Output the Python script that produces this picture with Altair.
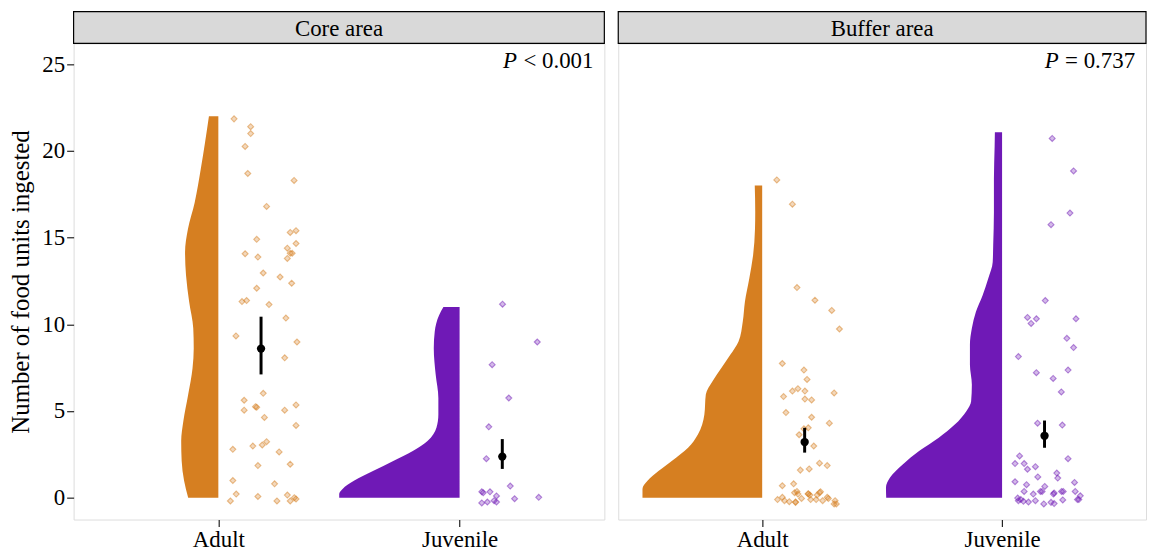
import altair as alt
import pandas as pd

FONT = "Liberation Serif"

CATEGORIES = ["Adult", "Juvenile"]
CAT_POS = [1, 2]
AREAS = ["Core area", "Buffer area"]
P_SIGN = ["< 0.001", "= 0.737"]
COLORS = ["#D67F21", "#6F19B6"]
Y_TICKS = [0, 5, 10, 15, 20, 25]

# ---- half-violin outlines (value, half width in category units)
CORE_ADULT_VY = [0, 0.97, 2.12, 3.27, 4.42, 5.95, 7.47, 8.62, 9.77, 11.3, 12.83, 14.16, 15.5, 17.03, 18.94, 20.5, 22.0]
CORE_ADULT_VW = [0.125, 0.142, 0.152, 0.154, 0.145, 0.125, 0.107, 0.102, 0.104, 0.121, 0.134, 0.138, 0.126, 0.098, 0.073, 0.055, 0.039]
CORE_JUV_VY = [0, 0.21, 0.5, 0.97, 1.55, 2.12, 2.69, 3.27, 4.03, 4.8, 5.75, 7.09, 8.62, 9.58, 10.53, 11.0]
CORE_JUV_VW = [0.499, 0.499, 0.485, 0.438, 0.357, 0.275, 0.194, 0.133, 0.096, 0.088, 0.088, 0.099, 0.107, 0.103, 0.085, 0.067]
BUF_ADULT_VY = [0, 0.5, 0.97, 1.55, 2.12, 2.88, 3.65, 4.8, 5.95, 6.71, 7.47, 8.24, 9.0, 10.15, 11.3, 12.63, 13.97, 15.5, 16.5, 18.0]
BUF_ADULT_VW = [0.499, 0.499, 0.478, 0.431, 0.377, 0.309, 0.268, 0.241, 0.235, 0.207, 0.171, 0.133, 0.099, 0.081, 0.072, 0.054, 0.038, 0.030, 0.029, 0.031]
BUF_JUV_VY = [0, 0.59, 1.16, 1.93, 2.69, 3.46, 4.23, 4.99, 5.56, 6.52, 7.67, 8.81, 9.77, 10.72, 11.68, 12.63, 13.59, 14.55, 16.46, 18.37, 20.28, 21.08]
BUF_JUV_VW = [0.483, 0.484, 0.467, 0.413, 0.346, 0.264, 0.196, 0.149, 0.129, 0.126, 0.134, 0.134, 0.126, 0.109, 0.081, 0.058, 0.039, 0.037, 0.034, 0.034, 0.031, 0.030]

# ---- raw observations: horizontal jitter (category units) and value
CORE_ADULT_DX = [0.065, 0.134, 0.134, 0.111, 0.122, 0.314, 0.200, 0.298, 0.322, 0.159, 0.322, 0.111, 0.164,
                 0.286, 0.298, 0.306, 0.286, 0.186, 0.256, 0.304, 0.159, 0.098, 0.117, 0.210, 0.280, 0.073,
                 0.326, 0.275, 0.186, 0.107, 0.107, 0.159, 0.154, 0.191, 0.275, 0.322, 0.322, 0.060, 0.143,
                 0.182, 0.200, 0.252, 0.164, 0.298, 0.060, 0.233, 0.074, 0.164, 0.050, 0.243, 0.286, 0.298,
                 0.322, 0.315]
CORE_ADULT_Y = [21.85, 21.4, 21.0, 20.26, 18.7, 18.3, 16.8, 15.3, 15.4, 14.9, 14.66, 14.07, 13.88,
                14.39, 14.1, 14.1, 13.8, 12.96, 12.73, 12.37, 12.08, 11.31, 11.37, 11.14, 10.36, 9.33,
                8.98, 8.07, 6.02, 5.62, 5.05, 5.22, 5.25, 4.63, 5.05, 5.35, 4.17, 2.79, 2.98,
                3.04, 3.23, 2.64, 1.85, 1.93, 0.99, 0.8, 0.21, 0.07, -0.19, -0.19, 0.15, -0.19,
                -0.07, 0.0]
CORE_JUV_DX = [0.178, 0.322, 0.135, 0.204, 0.121, 0.111, 0.210, 0.092, 0.098, 0.126, 0.153, 0.143,
               0.153, 0.115, 0.092, 0.228, 0.328]
CORE_JUV_Y = [11.16, 8.98, 7.67, 5.75, 4.09, 2.25, 0.67, 0.34, 0.29, 0.34, 0.10, -0.17,
              -0.25, -0.25, -0.30, -0.06, 0.02]
BUF_ADULT_DX = [0.061, 0.126, 0.145, 0.220, 0.290, 0.322, 0.084, 0.174, 0.187, 0.126, 0.149, 0.178,
                0.089, 0.178, 0.206, 0.300, 0.099, 0.206, 0.280, 0.192, 0.174, 0.154, 0.215, 0.239,
                0.271, 0.159, 0.196, 0.084, 0.131, 0.064, 0.084, 0.093, 0.113, 0.135, 0.145, 0.149,
                0.164, 0.139, 0.139, 0.192, 0.192, 0.199, 0.202, 0.225, 0.229, 0.239, 0.243, 0.252,
                0.271, 0.276, 0.304, 0.309, 0.300]
BUF_ADULT_Y = [18.33, 16.93, 12.12, 11.39, 10.8, 9.73, 7.74, 7.36, 6.82, 6.15, 6.29, 6.15,
               5.83, 5.69, 5.64, 6.04, 4.91, 4.64, 4.30, 4.03, 3.97, 3.63, 2.98, 1.99,
               1.85, 1.59, 1.66, 0.69, 0.80, -0.11, 0.02, -0.17, -0.23, 0.29, 0.36, 0.21,
               -0.04, -0.27, -0.25, 0.21, 0.23, 0.15, -0.11, -0.11, 0.15, 0.29, 0.34, -0.17,
               0.02, -0.04, -0.17, -0.36, -0.36]
BUF_JUV_DX = [0.209, 0.298, 0.283, 0.204, 0.180, 0.106, 0.121, 0.143, 0.308, 0.270, 0.298, 0.068,
              0.143, 0.275, 0.213, 0.247, 0.148, 0.251, 0.073, 0.275, 0.054, 0.092, 0.106, 0.139,
              0.228, 0.232, 0.149, 0.054, 0.102, 0.178, 0.302, 0.092, 0.130, 0.160, 0.167, 0.217,
              0.248, 0.255, 0.305, 0.326, 0.314, 0.320, 0.065, 0.078, 0.068, 0.089, 0.110, 0.139,
              0.174, 0.204, 0.217, 0.253, 0.214]
BUF_JUV_Y = [20.72, 18.85, 16.42, 15.75, 11.37, 10.40, 10.05, 10.32, 10.32, 9.19, 8.66, 8.14,
             7.21, 7.36, 6.88, 6.10, 4.30, 4.19, 2.41, 2.25, 1.97, 1.97, 1.64, 1.79,
             1.42, 1.13, 1.20, 0.92, 0.75, 0.65, 0.88, 0.36, 0.21, 0.36, 0.36, 0.27,
             0.36, 0.36, 0.36, 0.11, -0.11, -0.11, -0.02, -0.11, -0.17, -0.21, -0.25, -0.17,
             -0.36, -0.27, -0.34, -0.13, 0.21]

# ---- group means with 95% CI: [core adult, core juv, buffer adult, buffer juv]
MEAN = [8.6, 2.37, 3.21, 3.57]
CI_LO = [7.11, 1.66, 2.60, 2.88]
CI_HI = [10.44, 3.38, 4.03, 4.45]
SUMMARY_DX = 0.177

VIOLINS = {
    ("Core area", "Adult"): (CORE_ADULT_VY, CORE_ADULT_VW),
    ("Core area", "Juvenile"): (CORE_JUV_VY, CORE_JUV_VW),
    ("Buffer area", "Adult"): (BUF_ADULT_VY, BUF_ADULT_VW),
    ("Buffer area", "Juvenile"): (BUF_JUV_VY, BUF_JUV_VW),
}
POINTS = {
    ("Core area", "Adult"): (CORE_ADULT_DX, CORE_ADULT_Y),
    ("Core area", "Juvenile"): (CORE_JUV_DX, CORE_JUV_Y),
    ("Buffer area", "Adult"): (BUF_ADULT_DX, BUF_ADULT_Y),
    ("Buffer area", "Juvenile"): (BUF_JUV_DX, BUF_JUV_Y),
}

pos_of = dict(zip(CATEGORIES, CAT_POS))

vrows, prows, srows = [], [], []
for (area, cat), (vy, vw) in VIOLINS.items():
    for y, w in zip(vy, vw):
        vrows.append({"area": area, "cat": cat, "pos": pos_of[cat], "y": y, "w": w})
for (area, cat), (dx, py) in POINTS.items():
    for d, y in zip(dx, py):
        prows.append({"area": area, "cat": cat, "pos": pos_of[cat], "dx": d, "y": y})
i = 0
for area in AREAS:
    for cat in CATEGORIES:
        srows.append({"area": area, "cat": cat, "pos": pos_of[cat], "mean": MEAN[i],
                      "lo": CI_LO[i], "hi": CI_HI[i]})
        i += 1

vdf = pd.DataFrame(vrows)
pdf = pd.DataFrame(prows)
sdf = pd.DataFrame(srows)

XDOM = [0.4, 2.6]
YDOM = [-1.26, 26.2]
H = 479
STRIP = 32
FS = 23
color_scale = alt.Scale(domain=CATEGORIES, range=COLORS)
label_expr = " : ".join(
    [f"datum.value == {p} ? '{c}'" for p, c in zip(CAT_POS, CATEGORIES)]) + " : ''"


def panel(k, width, show_y):
    area = AREAS[k]
    xaxis = alt.Axis(values=CAT_POS, labelExpr=label_expr, title=None, grid=False,
                     domain=False, tickSize=7, tickColor="#222", tickWidth=1.2,
                     labelFont=FONT, labelFontSize=FS, labelColor="black", labelPadding=2)
    if show_y:
        yaxis = alt.Axis(values=Y_TICKS, title="Number of food units ingested", grid=False,
                         domain=False, tickSize=7, tickColor="#222", tickWidth=1.2,
                         labelFont=FONT, labelFontSize=FS, labelColor="black", labelPadding=2,
                         titleFont=FONT, titleFontSize=25, titleFontWeight="normal",
                         titleColor="black", titlePadding=8)
    else:
        yaxis = None
    xs = alt.Scale(domain=XDOM, nice=False, zero=False)
    ys = alt.Scale(domain=YDOM, nice=False, zero=False)

    violin = alt.Chart(vdf).transform_filter(alt.datum.area == area).transform_calculate(
        xl="datum.pos - datum.w"
    ).mark_area(orient="horizontal", opacity=1, interpolate="monotone").encode(
        y=alt.Y("y:Q", scale=ys, axis=yaxis),
        x=alt.X("xl:Q", scale=xs, axis=xaxis, stack=None),
        x2="pos:Q",
        color=alt.Color("cat:N", scale=color_scale, legend=None),
    )

    pts = alt.Chart(pdf).transform_filter(alt.datum.area == area).transform_calculate(
        px="datum.pos + datum.dx"
    ).mark_point(shape="diamond", filled=False, size=36, strokeWidth=1.1,
                 fillOpacity=0.3, strokeOpacity=0.5).encode(
        x=alt.X("px:Q", scale=xs, axis=xaxis),
        y=alt.Y("y:Q", scale=ys, axis=yaxis),
        stroke=alt.Stroke("cat:N", scale=color_scale, legend=None),
        fill=alt.Fill("cat:N", scale=color_scale, legend=None),
    )

    sbase = alt.Chart(sdf).transform_filter(alt.datum.area == area).transform_calculate(
        sx=f"datum.pos + {SUMMARY_DX}"
    )
    bars = sbase.mark_rule(color="black", strokeWidth=3).encode(
        x=alt.X("sx:Q", scale=xs, axis=xaxis),
        y=alt.Y("lo:Q", scale=ys, axis=yaxis),
        y2="hi:Q",
    )
    means = sbase.mark_circle(color="black", size=70, opacity=1).encode(
        x=alt.X("sx:Q", scale=xs, axis=xaxis),
        y=alt.Y("mean:Q", scale=ys, axis=yaxis),
    )

    hdr = pd.DataFrame({"area": [area], "p": [P_SIGN[k]]})
    strip = alt.Chart(hdr).mark_rect(fill="#D9D9D9", stroke="black", strokeWidth=1.2).encode(
        x=alt.value(0), x2=alt.value(width), y=alt.value(-STRIP), y2=alt.value(0)
    )
    strip_txt = alt.Chart(hdr).mark_text(font=FONT, fontSize=FS, color="black",
                                         baseline="middle", align="center").encode(
        text="area:N", x=alt.value(width / 2), y=alt.value(-STRIP / 2 + 1)
    )
    p_it = alt.Chart(hdr).mark_text(font=FONT, fontSize=FS, fontStyle="italic", color="black",
                                    baseline="middle", align="left").encode(
        text=alt.value("P"), x=alt.value(width - 102), y=alt.value(18)
    )
    p_val = alt.Chart(hdr).mark_text(font=FONT, fontSize=FS, color="black",
                                     baseline="middle", align="right").encode(
        text="p:N", x=alt.value(width - 11), y=alt.value(18)
    )
    return alt.layer(violin, pts, bars, means, strip, strip_txt, p_it, p_val).properties(
        width=width, height=H
    )


chart = alt.hconcat(panel(0, 534, True), panel(1, 531, False), spacing=10).properties(
    padding=0
).configure_view(stroke="#7a7a7a", strokeWidth=1.3).configure(font=FONT)

chart.save("out.html", embed_options={"renderer": "svg", "actions": False})
